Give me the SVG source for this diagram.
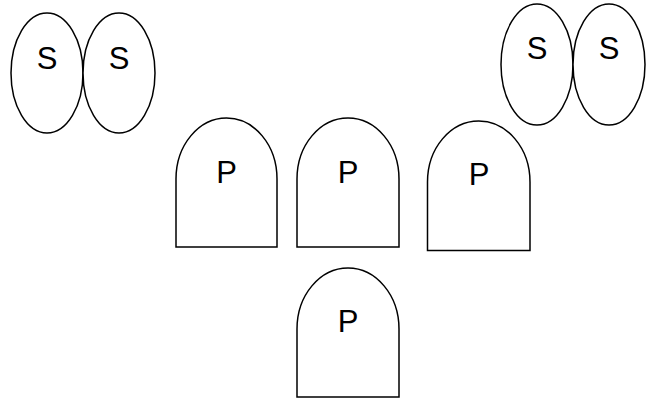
<svg xmlns="http://www.w3.org/2000/svg" width="650" height="398" viewBox="0 0 650 398">
<style>
.shape{fill:#fff;stroke:#000;stroke-width:1.5}
.lbl{font-family:"Liberation Sans",Arial,sans-serif;font-size:31px;fill:#000;text-anchor:middle}
</style>
<rect width="650" height="398" fill="#fff"/>
<g id="s1"><ellipse class="shape" cx="47" cy="73" rx="36" ry="60"/><text class="lbl" x="47" y="69">S</text></g>
<g id="s2"><ellipse class="shape" cx="119" cy="73" rx="36" ry="60"/><text class="lbl" x="119" y="69">S</text></g>
<g id="s3"><ellipse class="shape" cx="537" cy="64.5" rx="36" ry="60.5"/><text class="lbl" x="537" y="58.5">S</text></g>
<g id="s4"><ellipse class="shape" cx="609" cy="64.5" rx="36" ry="60.5"/><text class="lbl" x="609" y="58.5">S</text></g>
<g id="p1"><path class="shape" d="M176,247 L176,179 A50.5,61 0 0 1 277,179 L277,247 Z"/><text class="lbl" x="226.5" y="183">P</text></g>
<g id="p2"><path class="shape" d="M297,247 L297,179 A51,61 0 0 1 399,179 L399,247 Z"/><text class="lbl" x="348" y="183">P</text></g>
<g id="p3"><path class="shape" d="M427.5,250.5 L427.5,182 A51.25,61 0 0 1 530,182 L530,250.5 Z"/><text class="lbl" x="479" y="185">P</text></g>
<g id="p4"><path class="shape" d="M297,397 L297,329 A51,61 0 0 1 399,329 L399,397 Z"/><text class="lbl" x="348" y="332">P</text></g>
<g id="connectors"></g>
</svg>
